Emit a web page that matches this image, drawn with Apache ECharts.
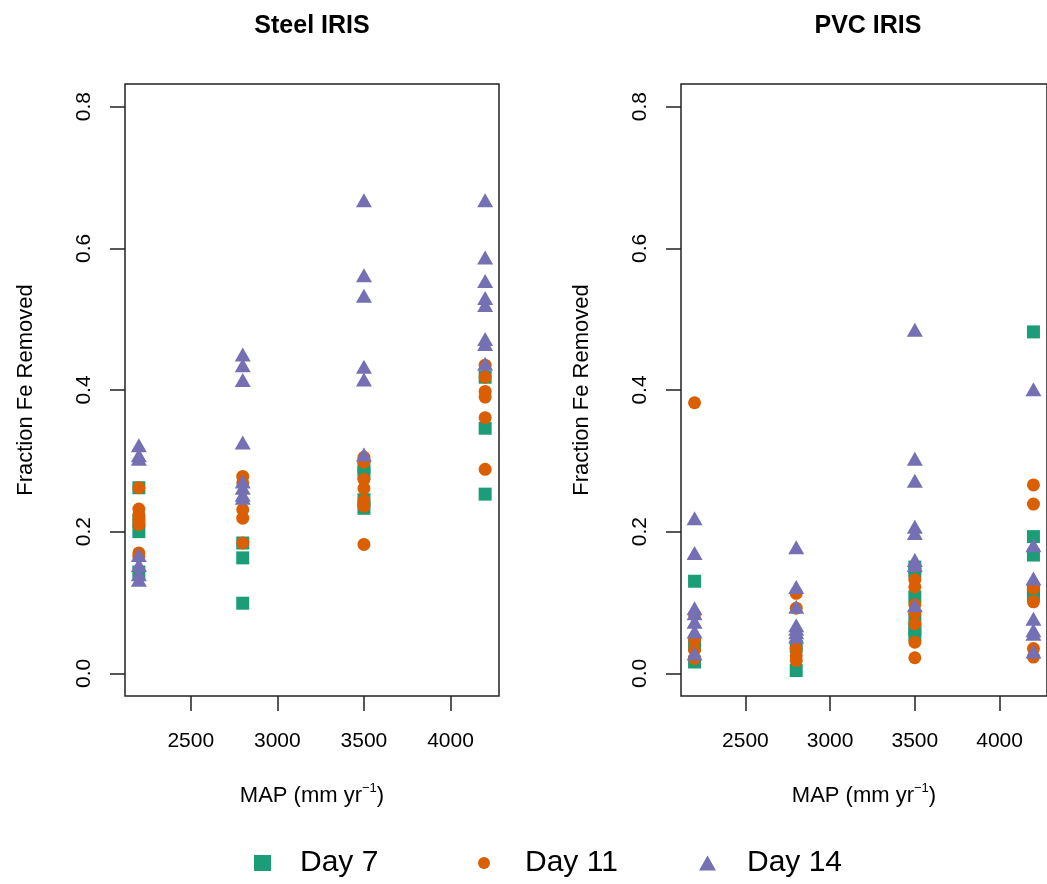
<!DOCTYPE html>
<html>
<head>
<meta charset="utf-8">
<script src="https://cdn.jsdelivr.net/npm/echarts@6/dist/echarts.min.js"></script>
<style>
html,body{margin:0;padding:0;background:#fff;}
#chart{width:1047px;height:884px;}
</style>
</head>
<body>
<div id="chart"></div>
<script>
// ---------- data (MAP in mm/yr, fraction Fe removed) ----------
const panelTitles = ['Steel IRIS', 'PVC IRIS'];
const seriesNames = ['Day 7', 'Day 11', 'Day 14'];
const xTicks = [2500, 3000, 3500, 4000];
const yTicks = [0, 0.2, 0.4, 0.6, 0.8];

const steelDay7 = [
  [2200,0.262],[2200,0.215],[2200,0.200],[2200,0.143],
  [2800,0.184],[2800,0.163],[2800,0.099],
  [3500,0.291],[3500,0.283],[3500,0.245],[3500,0.233],
  [4200,0.418],[4200,0.346],[4200,0.253]
];
const steelDay11 = [
  [2200,0.262],[2200,0.232],[2200,0.224],[2200,0.217],[2200,0.210],[2200,0.170],[2200,0.165],
  [2800,0.278],[2800,0.269],[2800,0.231],[2800,0.219],[2800,0.184],
  [3500,0.305],[3500,0.298],[3500,0.274],[3500,0.261],[3500,0.244],[3500,0.236],[3500,0.182],
  [4200,0.435],[4200,0.418],[4200,0.398],[4200,0.390],[4200,0.361],[4200,0.288]
];
const steelDay14 = [
  [2200,0.322],[2200,0.308],[2200,0.303],[2200,0.167],[2200,0.153],[2200,0.140],[2200,0.132],
  [2800,0.450],[2800,0.435],[2800,0.414],[2800,0.326],[2800,0.271],[2800,0.262],[2800,0.252],[2800,0.248],
  [3500,0.668],[3500,0.562],[3500,0.533],[3500,0.433],[3500,0.415],[3500,0.309],
  [4200,0.668],[4200,0.587],[4200,0.554],[4200,0.530],[4200,0.520],[4200,0.472],[4200,0.465],[4200,0.437]
];
const pvcDay7 = [
  [2200,0.130],[2200,0.040],[2200,0.016],
  [2800,0.038],[2800,0.004],
  [3500,0.150],[3500,0.143],[3500,0.108],[3500,0.075],[3500,0.062],[3500,0.055],
  [4200,0.482],[4200,0.193],[4200,0.167],[4200,0.118],[4200,0.110]
];
const pvcDay11 = [
  [2200,0.382],[2200,0.083],[2200,0.047],[2200,0.033],[2200,0.021],
  [2800,0.113],[2800,0.092],[2800,0.035],[2800,0.025],[2800,0.018],
  [3500,0.132],[3500,0.122],[3500,0.097],[3500,0.085],[3500,0.070],[3500,0.044],[3500,0.022],
  [4200,0.266],[4200,0.239],[4200,0.120],[4200,0.101],[4200,0.035],[4200,0.023]
];
const pvcDay14 = [
  [2200,0.219],[2200,0.170],[2200,0.092],[2200,0.085],[2200,0.073],[2200,0.059],[2200,0.028],
  [2800,0.178],[2800,0.122],[2800,0.094],[2800,0.068],[2800,0.063],[2800,0.058],[2800,0.052],
  [3500,0.485],[3500,0.303],[3500,0.272],[3500,0.207],[3500,0.198],[3500,0.160],[3500,0.153],[3500,0.096],
  [4200,0.401],[4200,0.181],[4200,0.134],[4200,0.077],[4200,0.061],[4200,0.056],[4200,0.031]
];

// ---------- styling ----------
const FONT = '"Liberation Sans", Arial, Helvetica, sans-serif';
const colors = ['#1B9E77', '#D95F02', '#7570B3'];
const symbols = ['rect', 'circle', 'triangle'];
const symbolSizes = [[13,13], 13, [16,14]];
const axisColor = '#222';

const panelData = [[steelDay7, steelDay11, steelDay14], [pvcDay7, pvcDay11, pvcDay14]];
const gridLefts = [125, 681];

const grids = gridLefts.map(l => ({
  left: l, top: 84, width: 374, height: 612,
  show: true, borderColor: axisColor, borderWidth: 1.5, backgroundColor: 'transparent'
}));

const xAxes = gridLefts.map((l, i) => ({
  type: 'value', gridIndex: i, min: 2120, max: 4280, position: 'bottom',
  axisLine: {show: false, onZero: false},
  splitLine: {show: false},
  axisTick: {show: true, length: 15, inside: false, customValues: xTicks, lineStyle: {color: axisColor, width: 1.5}},
  axisLabel: {customValues: xTicks, margin: 35, color: '#000', fontSize: 21, fontFamily: FONT,
    formatter: v => String(v)},
  name: '{a|MAP (mm yr}{s|−1}{a|)}',
  nameLocation: 'middle', nameGap: 86,
  nameTextStyle: {
    rich: {
      a: {fontSize: 22, fontFamily: FONT, color: '#000'},
      s: {fontSize: 13, fontFamily: FONT, color: '#000', padding: [0, 0, 14, 0]}
    }
  }
}));

const yAxes = gridLefts.map((l, i) => ({
  type: 'value', gridIndex: i, min: -0.032, max: 0.832, position: 'left',
  axisLine: {show: false, onZero: false},
  splitLine: {show: false},
  axisTick: {show: true, length: 15, inside: false, customValues: yTicks, lineStyle: {color: axisColor, width: 1.5}},
  axisLabel: {customValues: yTicks, rotate: 90, margin: 30, color: '#000', fontSize: 21, fontFamily: FONT,
    formatter: v => v.toFixed(1)},
  name: 'Fraction Fe Removed',
  nameLocation: 'middle', nameGap: 88,
  nameTextStyle: {fontSize: 22, fontFamily: FONT, color: '#000'}
}));

const series = [];
panelData.forEach((sets, p) => {
  sets.forEach((d, k) => {
    series.push({
      name: seriesNames[k], type: 'scatter', xAxisIndex: p, yAxisIndex: p,
      data: d, symbol: symbols[k], symbolSize: symbolSizes[k],
      itemStyle: {color: colors[k], opacity: 1},
      clip: false, z: 2 + k, silent: true
    });
  });
});

const legendPos = [
  {left: 249, w: 17, h: 16, pad: 24},
  {left: 473, w: 12, h: 12, pad: 30},
  {left: 694, w: 17, h: 15, pad: 26}
];
const legends = seriesNames.map((n, k) => ({
  data: [n], left: legendPos[k].left, top: 843, orient: 'horizontal',
  itemWidth: legendPos[k].w, itemHeight: legendPos[k].h, selectedMode: false,
  textStyle: {fontSize: 30, fontFamily: FONT, color: '#000', padding: [0, 0, 0, legendPos[k].pad]}
}));

const graphics = panelTitles.map((t, i) => ({
  type: 'text', x: gridLefts[i] + 187, y: 26,
  style: {text: t, textAlign: 'center', textVerticalAlign: 'middle',
    font: 'bold 25px ' + FONT, fill: '#000'}
}));

const chart = echarts.init(document.getElementById('chart'), null, {renderer: 'canvas'});
chart.setOption({
  animation: false,
  backgroundColor: '#fff',
  grid: grids, xAxis: xAxes, yAxis: yAxes,
  legend: legends, series: series, graphic: graphics
});
</script>
</body>
</html>
